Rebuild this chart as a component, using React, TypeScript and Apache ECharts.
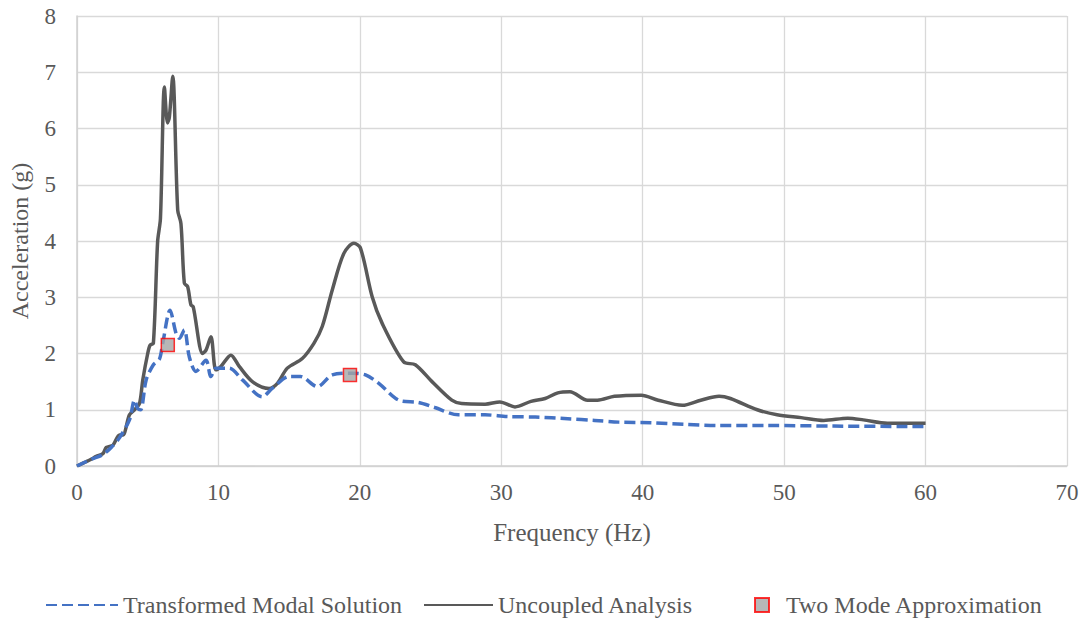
import React, { useEffect, useRef } from "react";
import * as echarts from "echarts";

const xTicks = [0, 10, 20, 30, 40, 50, 60, 70];
const yTicks = [0, 1, 2, 3, 4, 5, 6, 7, 8];

const uncoupled: [number, number][] = [
  [0, 0], [0.5, 0.06], [1.0, 0.12], [1.36, 0.17], [1.83, 0.22], [2.07, 0.33], [2.54, 0.37],
  [3.0, 0.55], [3.24, 0.55], [3.71, 0.91], [4.07, 1.0], [4.42, 1.11], [4.65, 1.53], [5.0, 2.0],
  [5.17, 2.15], [5.4, 2.18], [5.7, 3.99], [5.9, 4.4], [6.18, 6.74], [6.4, 6.1], [6.53, 6.2],
  [6.77, 6.93], [7.12, 4.55], [7.35, 4.31], [7.59, 3.25], [7.82, 3.19], [8.06, 2.86], [8.22, 2.83],
  [8.88, 2.0], [9.12, 2.06], [9.47, 2.3], [9.82, 1.71], [10.17, 1.77], [10.88, 1.97], [11.47, 1.77],
  [12.4, 1.5], [13.58, 1.38], [14.17, 1.47], [14.87, 1.74], [15.93, 1.91], [16.75, 2.18],
  [17.34, 2.48], [18.05, 3.13], [18.87, 3.78], [19.58, 3.96], [20.05, 3.87], [20.87, 3.01],
  [21.57, 2.54], [23.1, 1.85], [23.92, 1.8], [25.1, 1.5], [26.5, 1.17], [27.2, 1.11], [28.85, 1.1],
  [29.9, 1.14], [30.97, 1.05], [32.1, 1.15], [33.1, 1.2], [34.0, 1.3], [34.85, 1.32], [36.1, 1.17],
  [36.8, 1.17], [38.0, 1.24], [39.9, 1.26], [41.1, 1.17], [42.8, 1.08], [44.1, 1.17], [45.4, 1.24],
  [46.2, 1.2], [48.1, 1.0], [49.5, 0.91], [51.2, 0.86], [52.8, 0.81], [54.5, 0.85], [55.6, 0.82],
  [57.3, 0.76], [60, 0.76],
];

const transformed: [number, number][] = [
  [0, 0], [1, 0.12], [1.8, 0.2], [2.42, 0.33], [3.0, 0.5], [3.71, 0.82], [4.07, 1.17], [4.3, 1.02],
  [4.5, 1.0], [4.89, 1.53], [5.4, 1.8], [5.83, 1.9], [6.06, 2.18], [6.58, 2.77], [7.0, 2.36],
  [7.24, 2.27], [7.59, 2.42], [7.94, 1.94], [8.41, 1.68], [9.12, 1.88], [9.47, 1.59], [9.82, 1.74],
  [10.76, 1.74], [11.7, 1.53], [13.1, 1.23], [13.8, 1.38], [15.0, 1.59], [15.8, 1.59], [17.0, 1.41],
  [18.05, 1.62], [19.45, 1.65], [20.4, 1.62], [21.34, 1.47], [22.75, 1.17], [24.15, 1.13],
  [25.3, 1.04], [26.97, 0.91], [28.85, 0.91], [30.4, 0.88], [32.4, 0.87], [34.7, 0.84],
  [36.6, 0.81], [38.3, 0.78], [40.6, 0.77], [42.95, 0.74], [45.3, 0.72], [48.8, 0.72],
  [53.5, 0.71], [60, 0.7],
];

const twoMode: [number, number][] = [
  [6.42, 2.15],
  [19.3, 1.62],
];

const FONT = "'Times New Roman', 'Liberation Serif', 'DejaVu Serif', serif";
const TXT = "#595959";

export default function App() {
  const ref = useRef<HTMLDivElement>(null);
  useEffect(() => {
    if (!ref.current) return;
    const chart = echarts.init(ref.current, undefined, { renderer: "svg" });
    chart.setOption({
      animation: false,
      textStyle: { fontFamily: FONT, color: TXT },
      grid: { left: 73, right: 21, top: 16, bottom: 152 },
      xAxis: {
        type: "value",
        min: xTicks[0],
        max: xTicks[xTicks.length - 1],
        interval: 10,
        name: "Frequency (Hz)",
        nameLocation: "middle",
        nameGap: 54,
        nameTextStyle: { fontFamily: FONT, fontSize: 25, color: TXT },
        axisLine: { lineStyle: { color: "#d0d0d0", width: 1.5 } },
        axisTick: { show: false },
        axisLabel: { fontFamily: FONT, fontSize: 23, color: TXT, margin: 15 },
        splitLine: { lineStyle: { color: "#d9d9d9", width: 1.3 } },
      },
      yAxis: {
        type: "value",
        min: yTicks[0],
        max: yTicks[yTicks.length - 1],
        interval: 1,
        name: "Acceleration (g)",
        nameLocation: "middle",
        nameGap: 45,
        nameTextStyle: { fontFamily: FONT, fontSize: 24, color: TXT },
        axisLine: { show: true, lineStyle: { color: "#d0d0d0", width: 1.5 } },
        axisTick: { show: false },
        axisLabel: { fontFamily: FONT, fontSize: 23, color: TXT, margin: 21 },
        splitLine: { lineStyle: { color: "#d9d9d9", width: 1.3 } },
      },
      legend: [
        {
          data: ["Transformed Modal Solution"],
          left: 40,
          top: 588,
          itemWidth: 72,
          itemHeight: 14,
          itemStyle: { opacity: 0 },
          textStyle: { fontFamily: FONT, fontSize: 24, color: TXT },
        },
        {
          data: ["Uncoupled Analysis"],
          left: 418,
          top: 588,
          itemWidth: 69,
          itemHeight: 14,
          itemStyle: { opacity: 0 },
          textStyle: { fontFamily: FONT, fontSize: 24, color: TXT },
        },
        {
          data: ["Two Mode Approximation"],
          left: 749,
          top: 588,
          itemWidth: 14,
          itemHeight: 14,
          textStyle: { fontFamily: FONT, fontSize: 24, color: TXT, padding: [0, 0, 0, 12] },
        },
      ],
      series: [
        {
          name: "Transformed Modal Solution",
          type: "line",
          data: transformed,
          smooth: 0.3,
          symbol: "none",
          lineStyle: { color: "#4472C4", width: 3.5, type: [11, 5] },
          itemStyle: { color: "#4472C4" },
          z: 3,
        },
        {
          name: "Uncoupled Analysis",
          type: "line",
          data: uncoupled,
          smooth: 0.3,
          symbol: "none",
          lineStyle: { color: "#595959", width: 3.5 },
          itemStyle: { color: "#595959" },
          z: 2,
        },
        {
          name: "Two Mode Approximation",
          type: "scatter",
          data: twoMode,
          symbol: "rect",
          symbolSize: 13,
          itemStyle: { color: "#a5a5a5", borderColor: "#ff0000", borderWidth: 1.5 },
          z: 4,
        },
      ],
    });
    return () => chart.dispose();
  }, []);
  return <div ref={ref} style={{ width: 1088, height: 618, position: "absolute", left: 0, top: 0 }} />;
}
